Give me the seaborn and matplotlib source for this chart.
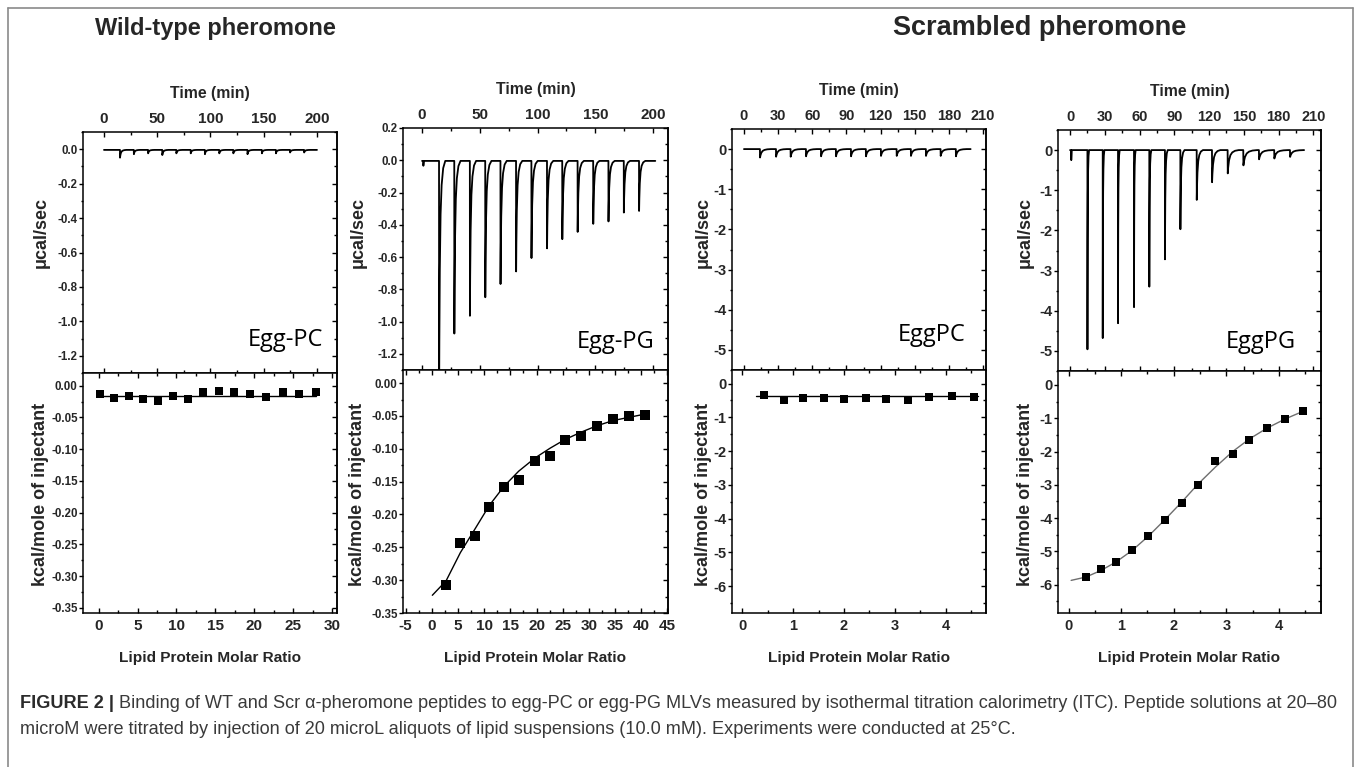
import numpy as np
import pandas as pd
import matplotlib
matplotlib.use("Agg")
import matplotlib.pyplot as plt
from matplotlib import font_manager
from matplotlib.ticker import MultipleLocator, FormatStrFormatter
from matplotlib.lines import Line2D
import seaborn as sns

# ---------------- raw thermograms: injection times (min) and peak depths (µcal/sec) ----------------
wt_pc_inj_time = [15.0, 28.0, 41.4, 54.7, 67.9, 81.4, 94.7, 108.2, 121.4, 134.7, 148.2, 161.4, 174.7, 187.9]
wt_pc_peak = [0.045, 0.025, 0.02, 0.03, 0.02, 0.02, 0.025, 0.02, 0.02, 0.025, 0.02, 0.02, 0.015, 0.015]
wt_pc_width = [0.5] * 14

wt_pg_inj_time = [14.7, 27.9, 41.4, 54.7, 67.9, 81.4, 94.7, 108.2, 121.4, 134.7, 148.2, 161.4, 174.7, 187.9]
wt_pg_peak = [1.50, 1.07, 0.96, 0.845, 0.763, 0.685, 0.602, 0.542, 0.485, 0.44, 0.39, 0.375, 0.32, 0.31]
wt_pg_width = [0.45] * 14

scr_pc_inj_time = [14.0, 28.1, 40.9, 54.4, 67.6, 80.7, 93.9, 107.0, 120.2, 134.0, 146.5, 159.7, 172.6, 186.0]
scr_pc_peak = [0.21, 0.19, 0.19, 0.18, 0.18, 0.18, 0.18, 0.18, 0.17, 0.17, 0.17, 0.17, 0.17, 0.18]
scr_pc_width = [0.8] * 14

scr_pg_inj_time = [15.0, 28.2, 41.4, 55.2, 68.4, 81.9, 95.2, 109.3, 122.5, 136.0, 149.5, 163.0, 176.2, 189.8]
scr_pg_peak = [4.96, 4.68, 4.31, 3.91, 3.40, 2.72, 1.97, 1.24, 0.80, 0.58, 0.38, 0.23, 0.21, 0.17]
scr_pg_width = [0.12, 0.12, 0.12, 0.12, 0.15, 0.2, 0.3, 0.45, 0.6, 0.8, 1.0, 1.0, 1.0, 1.0]

# shape of one injection peak: time after injection (min, per unit width) and fraction of depth
peak_profile_dt = [0.0, 0.15, 0.6, 1.5, 3.0, 5.0, 8.0, 12.0]
peak_profile_frac = [0.0, 1.0, 0.75, 0.45, 0.22, 0.10, 0.03, 0.0]

# ---------------- integrated heats (kcal/mole of injectant) ----------------
wt_pc_ratio = [0.13, 1.97, 3.86, 5.71, 7.6, 9.57, 11.5, 13.4, 15.4, 17.4, 19.4, 21.5, 23.7, 25.7, 27.9]
wt_pc_heat = [-0.0135, -0.020, -0.017, -0.021, -0.024, -0.017, -0.021, -0.0104, -0.0078,
              -0.0104, -0.0125, -0.018, -0.0104, -0.0135, -0.0104]
wt_pc_fit_ratio = [0.13, 27.9]
wt_pc_fit_heat = [-0.0155, -0.0155]

wt_pg_ratio = [2.73, 5.46, 8.25, 10.98, 13.78, 16.6, 19.7, 22.6, 25.4, 28.4, 31.5, 34.6, 37.7, 40.8]
wt_pg_heat = [-0.307, -0.243, -0.232, -0.188, -0.158, -0.147, -0.119, -0.111, -0.087, -0.081,
              -0.065, -0.054, -0.050, -0.048]
wt_pg_fit_ratio = [0.1, 2.73, 5.46, 8.25, 11.0, 13.8, 16.6, 19.7, 22.6, 25.4, 28.4, 31.5, 34.6, 37.7, 40.8]
wt_pg_fit_heat = [-0.323, -0.301, -0.258, -0.222, -0.186, -0.157, -0.134, -0.114, -0.099, -0.086,
                  -0.075, -0.065, -0.057, -0.052, -0.047]

scr_pc_ratio = [0.42, 0.83, 1.20, 1.60, 2.0, 2.43, 2.83, 3.25, 3.67, 4.12, 4.55]
scr_pc_heat = [-0.34, -0.49, -0.43, -0.44, -0.46, -0.42, -0.47, -0.48, -0.39, -0.37, -0.39]
scr_pc_fit_ratio = [0.27, 4.64]
scr_pc_fit_heat = [-0.36, -0.36]

scr_pg_ratio = [0.33, 0.62, 0.91, 1.21, 1.52, 1.83, 2.15, 2.46, 2.79, 3.12, 3.44, 3.77, 4.12, 4.46]
scr_pg_heat = [-5.78, -5.53, -5.33, -4.96, -4.53, -4.05, -3.55, -3.01, -2.29, -2.07, -1.66, -1.29, -1.03, -0.77]
scr_pg_fit_ratio = [0.05, 0.33, 0.62, 0.91, 1.21, 1.52, 1.83, 2.15, 2.46, 2.79, 3.12, 3.44, 3.77, 4.12, 4.46]
scr_pg_fit_heat = [-5.87, -5.77, -5.57, -5.31, -4.97, -4.54, -4.05, -3.52, -2.98, -2.47, -2.00, -1.62,
                   -1.30, -1.02, -0.79]

group_titles = ["Wild-type pheromone", "Scrambled pheromone"]
lipid_labels = ["Egg-PC", "Egg-PG", "EggPC", "EggPG"]
caption_head = "FIGURE 2 |"
caption_line1 = (" Binding of WT and Scr \u03b1-pheromone peptides to egg-PC or egg-PG MLVs measured by "
                 "isothermal titration calorimetry (ITC). Peptide solutions at 20\u201380")
caption_line2 = ("microM were titrated by injection of 20 microL aliquots of lipid suspensions (10.0 mM). "
                 "Experiments were conducted at 25\u00b0C.")

# ---------------- style ----------------
sns.set_theme(style="white")
plt.rcParams["font.family"] = ["Liberation Sans", "DejaVu Sans"]
plt.rcParams["axes.unicode_minus"] = False
plt.rcParams["axes.linewidth"] = 1.1
plt.rcParams["axes.edgecolor"] = "black"

# condensed face for axis titles and x tick labels, if one is installed
_names = {f.name for f in font_manager.fontManager.ttflist}
if "Liberation Sans Narrow" in _names:
    NARROW, NSCALE = ["Liberation Sans Narrow", "Liberation Sans"], 1.0
else:
    NARROW, NSCALE = ["Liberation Sans", "DejaVu Sans"], 0.85

W, H = 1357, 767
fig = plt.figure(figsize=(W / 100, H / 100), dpi=100)
fig.patch.set_facecolor("white")


def box(l, t, r, b):
    return [l / W, 1 - b / H, (r - l) / W, (b - t) / H]


def build_trace(t0, t1, inj, depth, width, pre=None, base=0.0):
    t, y = [t0], [base]
    if pre is not None:
        t += [pre[0], pre[0] + 0.15, pre[0] + 0.6]
        y += [base, base - pre[1], base]
    for ti, d, w in zip(inj, depth, width):
        for dt, f in zip(peak_profile_dt, peak_profile_frac):
            t.append(ti + dt * w)
            y.append(base - d * f)
    t.append(t1)
    y.append(base)
    return pd.DataFrame({"time": t, "power": y})


def style_axes(ax, ymaj, ymin, yfmt, ysize, xsize, top_panel):
    ax.yaxis.set_major_locator(MultipleLocator(ymaj))
    ax.yaxis.set_minor_locator(MultipleLocator(ymin))
    ax.yaxis.set_major_formatter(FormatStrFormatter(yfmt))
    ax.tick_params(axis="y", which="both", direction="out", left=True, right=False,
                   width=1.0, color="black", pad=0.8, labelsize=ysize)
    ax.tick_params(axis="y", which="major", length=3.0)
    ax.tick_params(axis="y", which="minor", length=1.8)
    ax.tick_params(axis="x", which="both", direction="in", top=True, bottom=True, width=1.0, color="black")
    ax.tick_params(axis="x", which="major", length=3.8, labelsize=xsize, pad=4.5)
    ax.tick_params(axis="x", which="minor", length=2.0)
    if top_panel:
        ax.tick_params(axis="x", labeltop=True, labelbottom=False)
    else:
        ax.tick_params(axis="x", labeltop=False, labelbottom=True)
    sec = ax.secondary_yaxis("right")
    sec.yaxis.set_major_locator(MultipleLocator(ymaj))
    sec.yaxis.set_minor_locator(MultipleLocator(ymin))
    sec.tick_params(which="both", direction="in", labelright=False, width=1.0, color="black")
    sec.tick_params(which="major", length=3.8)
    sec.tick_params(which="minor", length=2.0)
    sec.spines["right"].set_linewidth(1.1)
    ax.grid(False)
    ax.set_facecolor("white")


def bold_ticks(ax):
    for lab in ax.get_xticklabels():
        lab.set_fontweight("bold")
        lab.set_family(NARROW)
    for lab in ax.get_yticklabels():
        lab.set_fontweight("bold")


panels = [
    dict(l=83, r=337, t=132, d=373, b=613,
         trace=build_trace(0, 200, wt_pc_inj_time, wt_pc_peak, wt_pc_width, base=-0.004),
         tx=(-19.7, 218.8), txmaj=50, txmin=25, ty=(-1.3, 0.1), tymaj=0.2, tymin=0.1, tyfmt="%.1f",
         ratio=wt_pc_ratio, heat=wt_pc_heat, fr=wt_pc_fit_ratio, fh=wt_pc_fit_heat, fitcol="black",
         bx=(-2.0, 30.6), bxmaj=5, bxmin=2.5, by=(-0.358, 0.02), bymaj=0.05, bymin=0.025, byfmt="%.2f",
         ysize=8.3, xsize=11.0, ms=38, lab=(285, 340)),
    dict(l=403, r=668, t=128, d=370, b=613,
         trace=build_trace(0, 202, wt_pg_inj_time, wt_pg_peak, wt_pg_width, pre=(1.0, 0.03), base=-0.004),
         tx=(-16.5, 213.0), txmaj=50, txmin=25, ty=(-1.3, 0.2), tymaj=0.2, tymin=0.1, tyfmt="%.1f",
         ratio=wt_pg_ratio, heat=wt_pg_heat, fr=wt_pg_fit_ratio, fh=wt_pg_fit_heat, fitcol="black",
         bx=(-5.5, 45.1), bxmaj=5, bxmin=2.5, by=(-0.35, 0.02), bymaj=0.05, bymin=0.025, byfmt="%.2f",
         ysize=8.3, xsize=11.0, ms=42, lab=(616, 342)),
    dict(l=732, r=986, t=129, d=370, b=613,
         trace=build_trace(0, 199, scr_pc_inj_time, scr_pc_peak, scr_pc_width),
         tx=(-10.5, 212.5), txmaj=30, txmin=15, ty=(-5.5, 0.5), tymaj=1, tymin=0.5, tyfmt="%d",
         ratio=scr_pc_ratio, heat=scr_pc_heat, fr=scr_pc_fit_ratio, fh=scr_pc_fit_heat, fitcol="black",
         bx=(-0.2, 4.79), bxmaj=1, bxmin=0.5, by=(-6.8, 0.4), bymaj=1, bymin=0.5, byfmt="%d",
         ysize=10.5, xsize=10.5, ms=30, lab=(932, 335)),
    dict(l=1058, r=1321, t=130, d=371, b=613,
         trace=build_trace(0, 202, scr_pg_inj_time, scr_pg_peak, scr_pg_width, pre=(0.9, 0.25)),
         tx=(-10.4, 216.6), txmaj=30, txmin=15, ty=(-5.5, 0.5), tymaj=1, tymin=0.5, tyfmt="%d",
         ratio=scr_pg_ratio, heat=scr_pg_heat, fr=scr_pg_fit_ratio, fh=scr_pg_fit_heat, fitcol="#6e6e6e",
         bx=(-0.2, 4.8), bxmaj=1, bxmin=0.5, by=(-6.85, 0.42), bymaj=1, bymin=0.5, byfmt="%d",
         ysize=10.5, xsize=10.5, ms=36, lab=(1261, 342)),
]

ylab_x = [41, 358, 703, 1025]

for p, lab_text, yx in zip(panels, lipid_labels, ylab_x):
    # raw heat-flow thermogram
    ax_t = fig.add_axes(box(p["l"], p["t"], p["r"], p["d"]))
    sns.lineplot(data=p["trace"], x="time", y="power", ax=ax_t, color="black", lw=1.3,
                 sort=False, estimator=None)
    ax_t.set_xlim(*p["tx"])
    ax_t.set_ylim(*p["ty"])
    ax_t.xaxis.set_major_locator(MultipleLocator(p["txmaj"]))
    ax_t.xaxis.set_minor_locator(MultipleLocator(p["txmin"]))
    style_axes(ax_t, p["tymaj"], p["tymin"], p["tyfmt"], p["ysize"], p["xsize"], top_panel=True)
    ax_t.xaxis.set_label_position("top")
    ax_t.set_xlabel("Time (min)", fontsize=13.5 * NSCALE, fontweight="bold", family=NARROW, labelpad=10)
    ax_t.set_ylabel("")
    bold_ticks(ax_t)
    ax_t.text((p["lab"][0] - p["l"]) / (p["r"] - p["l"]), (p["d"] - p["lab"][1]) / (p["d"] - p["t"]),
              lab_text, transform=ax_t.transAxes, ha="center", va="center", fontsize=17,
              family=["Open Sans", "Liberation Sans"], color="black")
    fig.text(yx / W, 1 - 232 / H, "\u03bccal/sec", rotation=90, ha="center", va="center",
             fontsize=13, fontweight="bold")

    # integrated heats with fit
    ax_b = fig.add_axes(box(p["l"], p["d"], p["r"], p["b"]))
    sns.lineplot(x=p["fr"], y=p["fh"], ax=ax_b, color=p["fitcol"], lw=1.0, sort=False, estimator=None)
    sns.scatterplot(x=p["ratio"], y=p["heat"], ax=ax_b, marker="s", s=p["ms"], color="black",
                    edgecolor="black", linewidth=0, zorder=3)
    ax_b.set_xlim(*p["bx"])
    ax_b.set_ylim(*p["by"])
    ax_b.xaxis.set_major_locator(MultipleLocator(p["bxmaj"]))
    ax_b.xaxis.set_minor_locator(MultipleLocator(p["bxmin"]))
    style_axes(ax_b, p["bymaj"], p["bymin"], p["byfmt"], p["ysize"], p["xsize"], top_panel=False)
    ax_b.set_xlabel("Lipid Protein Molar Ratio", fontsize=13 * NSCALE, fontweight="bold",
                    family=NARROW, labelpad=13)
    ax_b.set_ylabel("")
    bold_ticks(ax_b)
    fig.text(yx / W, 1 - 494 / H, "kcal/mole of injectant", rotation=90, ha="center", va="center",
             fontsize=13, fontweight="bold")

# group headings
fig.text(215 / W, 1 - 28 / H, group_titles[0], ha="center", va="center", fontsize=17, fontweight="bold")
fig.text(1040 / W, 1 - 28 / H, group_titles[1], ha="center", va="center", fontsize=19.5, fontweight="bold")

# caption
cap_size = 13.1
head = fig.text(20 / W, 1 - 703 / H, caption_head, ha="left", va="center", fontsize=cap_size,
                fontweight="bold", color="#2b2b2b")
fig.canvas.draw()
bb = head.get_window_extent()
fig.text(bb.x1 / W, 1 - 703 / H, caption_line1, ha="left", va="center", fontsize=cap_size, color="#3a3a3a")
fig.text(20 / W, 1 - 730 / H, caption_line2, ha="left", va="center", fontsize=cap_size, color="#3a3a3a")

# frame around the figure
frame_col = "#8a8a8a"
fig.add_artist(Line2D([8 / W, 8 / W], [0, 1 - 8 / H], transform=fig.transFigure, color=frame_col, lw=1.2))
fig.add_artist(Line2D([8 / W, 1353 / W], [1 - 8 / H, 1 - 8 / H], transform=fig.transFigure, color=frame_col, lw=1.2))
fig.add_artist(Line2D([1353 / W, 1353 / W], [0, 1 - 8 / H], transform=fig.transFigure, color=frame_col, lw=1.2))

fig.savefig("out.png", dpi=100, facecolor="white")
